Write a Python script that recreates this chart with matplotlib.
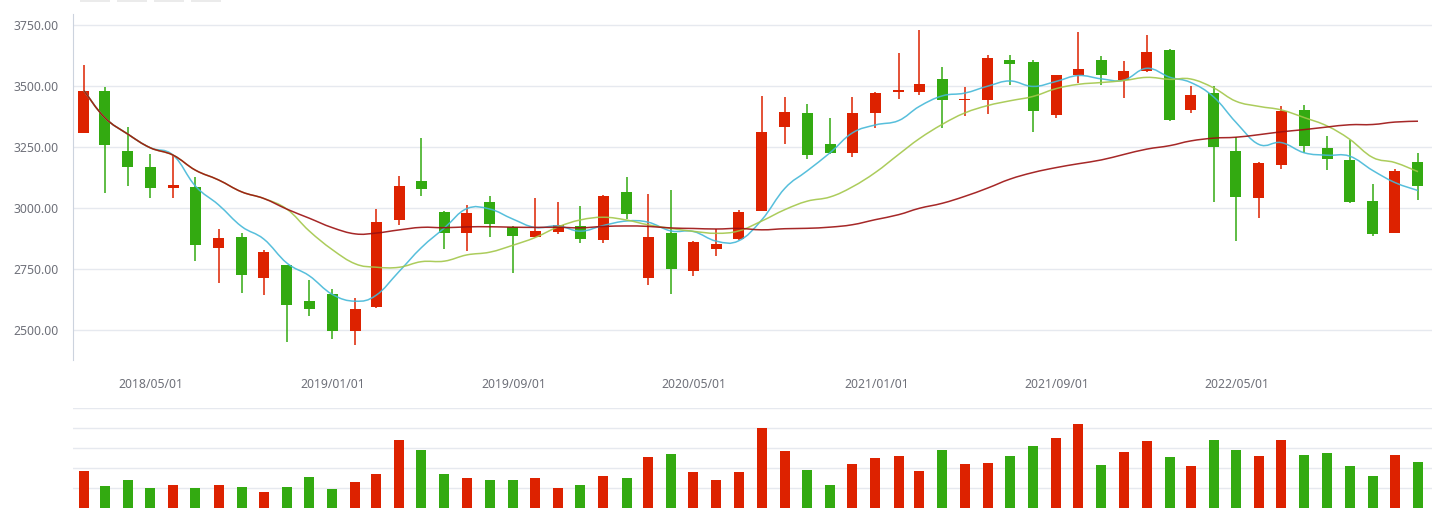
"""
Monthly candlestick chart with moving averages and a volume panel.
"""

import matplotlib
matplotlib.use("Agg")
import matplotlib.dates as mdates
import matplotlib.pyplot as plt
import pandas as pd
from matplotlib.patches import PathPatch, Rectangle
from matplotlib.path import Path

# month-end dates, Jan 2018 .. Dec 2022
dates = pd.date_range("2018-02-01", periods=60, freq="MS") - pd.Timedelta(days=1)

opens = [3309, 3481, 3235, 3168, 3083, 3086, 2837, 2881, 2714, 2766,
         2619, 2648, 2497, 2594, 2952, 3111, 2984, 2899, 3025, 2924,
         2883, 2903, 2926, 2870, 3066, 2714, 2899, 2740, 2830, 2872,
         2989, 3330, 3389, 3262, 3227, 3388, 3474, 3474, 3529, 3441,
         3444, 3607, 3598, 3382, 3545, 3607, 3526, 3560, 3648, 3403,
         3471, 3235, 3042, 3178, 3401, 3246, 3197, 3030, 2896, 3188]
closes = [3481, 3259, 3168, 3080, 3094, 2847, 2876, 2725, 2820, 2603,
          2588, 2494, 2585, 2941, 3091, 3077, 2898, 2979, 2933, 2886,
          2905, 2930, 2871, 3050, 2977, 2881, 2750, 2860, 2852, 2985,
          3310, 3395, 3218, 3225, 3391, 3473, 3483, 3509, 3442, 3447,
          3615, 3590, 3397, 3544, 3568, 3547, 3563, 3640, 3361, 3462,
          3250, 3043, 3186, 3399, 3253, 3200, 3024, 2893, 3151, 3089]
highs = [3587, 3495, 3332, 3220, 3217, 3127, 2915, 2898, 2828, 2767,
         2706, 2668, 2631, 2997, 3130, 3288, 2988, 3012, 3048, 2926,
         3040, 3025, 3008, 3053, 3127, 3057, 3074, 2865, 2914, 2992,
         3458, 3454, 3425, 3368, 3455, 3474, 3636, 3731, 3578, 3496,
         3627, 3628, 3606, 3546, 3723, 3623, 3602, 3708, 3651, 3498,
         3498, 3291, 3188, 3419, 3424, 3296, 3280, 3098, 3158, 3226]
lows = [3309, 3063, 3091, 3041, 3042, 2783, 2692, 2653, 2645, 2450,
        2559, 2464, 2440, 2590, 2930, 3048, 2833, 2824, 2882, 2734,
        2882, 2895, 2858, 2857, 2955, 2686, 2647, 2720, 2804, 2870,
        2986, 3263, 3202, 3220, 3210, 3326, 3446, 3464, 3329, 3375,
        3386, 3505, 3312, 3369, 3513, 3502, 3450, 3558, 3357, 3390,
        3023, 2863, 2957, 3160, 3226, 3155, 3020, 2885, 2896, 3034]
volumes = [1.85, 1.1, 1.4, 1.0, 1.15, 1.0, 1.15, 1.05, 0.8, 1.05,
           1.55, 0.95, 1.3, 1.7, 3.4, 2.9, 1.7, 1.5, 1.4, 1.4,
           1.5, 1.0, 1.15, 1.6, 1.5, 2.55, 2.7, 1.8, 1.4, 1.8,
           4.0, 2.85, 1.9, 1.15, 2.2, 2.5, 2.6, 1.85, 2.9, 2.2,
           2.25, 2.6, 3.1, 3.5, 4.2, 2.15, 2.8, 3.35, 2.55, 2.1,
           3.4, 2.9, 2.6, 3.4, 2.65, 2.75, 2.1, 1.6, 2.65, 2.3]

tick_labels = ["2018/05/01", "2019/01/01", "2019/09/01", "2020/05/01",
               "2021/01/01", "2021/09/01", "2022/05/01"]
price_ticks = [2500, 2750, 3000, 3250, 3500, 3750]

ma_windows = [5, 10, 30]
ma_colors = ["#45b8d8", "#a3c74a", "#9c1010"]

UP = "#dd2200"
DOWN = "#33aa11"
GRID = "#e6e9ef"
TEXT = "#6e7079"

W, H = 1435, 508


def smooth_path(x, y, s=0.2):
    """Bezier path through the points, similar to a smoothed line series."""
    verts = [(x[0], y[0])]
    codes = [Path.MOVETO]
    n = len(x)
    for i in range(n - 1):
        xp, yp = (x[i - 1], y[i - 1]) if i > 0 else (x[i], y[i])
        xn, yn = (x[i + 2], y[i + 2]) if i + 2 < n else (x[i + 1], y[i + 1])
        c1 = (x[i] + (x[i + 1] - xp) * s, y[i] + (y[i + 1] - yp) * s)
        c2 = (x[i + 1] - (xn - x[i]) * s, y[i + 1] - (yn - y[i]) * s)
        verts += [c1, c2, (x[i + 1], y[i + 1])]
        codes += [Path.CURVE4] * 3
    return Path(verts, codes)


def main():
    plt.rcParams["font.family"] = ["Noto Sans", "DejaVu Sans"]
    fig = plt.figure(figsize=(W / 100, H / 100), dpi=100)

    ax = fig.add_axes([73 / W, (H - 360) / H, (1432 - 73) / W, 346 / H])
    axv = fig.add_axes([73 / W, 0, (1432 - 73) / W, 100 / H])

    x = mdates.date2num(dates.to_pydatetime())
    ppd = (1418 - 84) / (x[-1] - x[0])  # pixels per day
    xlim = (x[0] - 11 / ppd, x[-1] + 14 / ppd)

    colors = [UP if c >= o else DOWN for o, c in zip(opens, closes)]

    # candles
    ax.vlines(x, lows, highs, colors=colors, lw=1.1, zorder=2)
    bottoms = [min(o, c) for o, c in zip(opens, closes)]
    heights = [max(abs(c - o), 2) for o, c in zip(opens, closes)]
    ax.bar(x, heights, bottom=bottoms, width=11 / ppd, color=colors,
           lw=0, zorder=3)

    # moving averages
    s = pd.Series(closes, dtype=float)
    for n, col in zip(ma_windows, ma_colors):
        ma = s.rolling(n, min_periods=1).mean().to_numpy()
        ax.add_patch(PathPatch(smooth_path(x, ma), fill=False, edgecolor=col,
                               lw=1.1, alpha=0.9, zorder=4))

    ax.set_xlim(*xlim)
    ax.set_ylim(2377, 3795)
    ax.set_yticks(price_ticks)
    ax.set_yticklabels([f"{v:.2f}" for v in price_ticks])
    ax.set_xticks(mdates.datestr2num(tick_labels))
    ax.set_xticklabels(tick_labels)
    ax.tick_params(length=0, colors=TEXT, labelsize=8.8)
    ax.tick_params(axis="y", pad=10.5)
    ax.tick_params(axis="x", pad=13)
    ax.grid(axis="y", color=GRID, lw=1)
    ax.set_axisbelow(True)
    for side in ["top", "right", "bottom"]:
        ax.spines[side].set_visible(False)
    ax.spines["left"].set_color("#ccd3de")

    # volume
    axv.bar(x, volumes, width=10 / ppd, color=colors, lw=0, zorder=3)
    axv.set_xlim(*xlim)
    axv.set_ylim(0, 5.02)
    axv.set_yticks([1, 2, 3, 4, 5])
    axv.set_xticks([])
    axv.tick_params(length=0, labelleft=False)
    axv.grid(axis="y", color=GRID, lw=1)
    axv.set_axisbelow(True)
    for side in axv.spines:
        axv.spines[side].set_visible(False)

    # legend chips cut off at the top edge
    for left in [80, 117, 154, 191]:
        fig.add_artist(Rectangle((left / W, 1 - 2 / H), 30 / W, 3 / H,
                                 transform=fig.transFigure,
                                 color="#ebebeb", lw=0))

    fig.savefig("out.png", dpi=100)


if __name__ == "__main__":
    main()
